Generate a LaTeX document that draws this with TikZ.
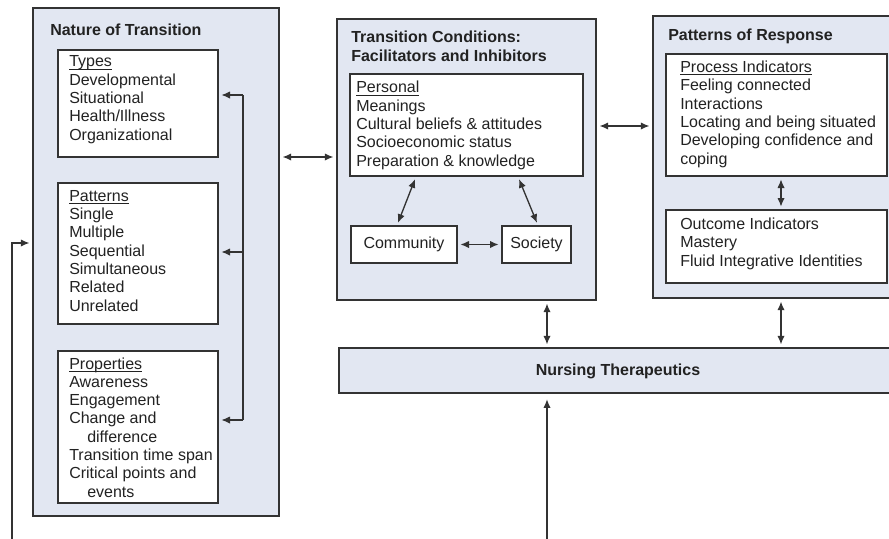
\documentclass[tikz,border=0pt]{standalone}
\usepackage{fontspec}
\setmainfont{Liberation Sans}
\usetikzlibrary{fit,arrows.meta}
\definecolor{panelfill}{HTML}{E2E7F2}
\definecolor{edge}{HTML}{333333}
\definecolor{ink}{HTML}{222222}
\newcommand\headul[1]{\underline{\smash{#1}}}
\begin{document}
\begin{tikzpicture}[x=0.75pt,y=-0.75pt,
  panel/.style={draw=edge, line width=1.3pt, fill=panelfill, inner sep=0pt},
  inbox/.style={draw=edge, line width=1pt, fill=white, inner sep=0pt},
  lbl/.style={anchor=center, inner sep=0pt, text=ink, font=\fontsize{12}{13.5}\selectfont},
  txt/.style={anchor=base west, inner sep=0pt, align=left, text=ink, font=\fontsize{12}{13.7}\selectfont},
  ttl/.style={anchor=base west, inner sep=0pt, align=left, text=ink, font=\fontsize{12}{14.25}\selectfont\bfseries},
  conn/.style={draw=edge, line width=1pt},
  tip/.tip={Latex[length=6.5pt,width=5.5pt]},
  dbl/.style={conn, tip-tip, shorten <=2pt, shorten >=2pt},
  one/.style={conn, -tip, shorten >=2pt}]
\useasboundingbox (0,0) rectangle (889,539);

% panels
\node[panel, fit={(33,8) (279,516)}] (natP) {};
\node[panel, fit={(337,19) (596,300)}] (condP) {};
\node[panel, fit={(653,16) (892,298)}] (respP) {};
\node[panel, fit={(339,348) (892,393)}] (nurse) {};
\node[lbl, font=\fontsize{12}{14}\selectfont\bfseries] (nurseT) at (618,371) {Nursing Therapeutics};

% inner boxes
\node[inbox, fit={(58,50) (218,157)}] (types) {};
\node[inbox, fit={(58,183) (218,324)}] (patterns) {};
\node[inbox, fit={(58,351) (218,503)}] (props) {};
\node[inbox, fit={(350,74) (583,176)}] (personal) {};
\node[inbox, fit={(351,226) (457,263)}] (community) {};
\node[inbox, fit={(502,226) (571,263)}] (society) {};
\node[inbox, fit={(666,54) (887,176)}] (process) {};
\node[inbox, fit={(666,210) (887,283)}] (outcome) {};
\node[lbl] (commT) at (community.center) {Community};
\node[lbl] (socT) at (society.center) {Society};

% titles (anchored at the baseline of the last line)
\node[ttl] (natT) at (50,35) {Nature of Transition};
\node[ttl] (condT) at (351,61) {Transition Conditions:\\Facilitators and Inhibitors};
\node[ttl] (respT) at (668,40) {Patterns of Response};

% texts (anchored at the baseline of the last line)
\node[txt] (typesT) at (69,140) {\headul{Types}\\Developmental\\Situational\\Health/Illness\\Organizational};
\node[txt] (patT) at (69,311) {\headul{Patterns}\\Single\\Multiple\\Sequential\\Simultaneous\\Related\\Unrelated};
\node[txt] (propT) at (69,497) {\headul{Properties}\\Awareness\\Engagement\\Change and\\\hspace*{13.5pt}difference\\Transition time span\\Critical points and\\\hspace*{13.5pt}events};
\node[txt] (persT) at (356,166) {\headul{Personal}\\Meanings\\Cultural beliefs \& attitudes\\Socioeconomic status\\Preparation \& knowledge};
\node[txt] (procT) at (680,164) {\headul{Process Indicators}\\Feeling connected\\Interactions\\Locating and being situated\\Developing confidence and\\coping};
\node[txt] (outT) at (680,266) {Outcome Indicators\\Mastery\\Fluid Integrative Identities};

% bracket arrows inside Nature of Transition
\coordinate (v1) at (243,95);
\coordinate (v2) at (243,252);
\coordinate (v3) at (243,420);
\draw[conn] (v1) -- (v3);
\draw[one] (v1) -- (v1 -| types.east);
\draw[one] (v2) -- (v2 -| patterns.east);
\draw[one] (v3) -- (v3 -| props.east);

% panel-to-panel arrows
\coordinate (h1) at (0,157);
\draw[dbl] (natP.east |- h1) -- (condP.west |- h1);
\coordinate (h2) at (0,126);
\draw[dbl] (condP.east |- h2) -- (respP.west |- h2);

% inside conditions
\coordinate (pc1) at (416,0);
\coordinate (pc2) at (397,0);
\draw[dbl] (personal.south -| pc1) -- (community.north -| pc2);
\coordinate (ps1) at (518,0);
\coordinate (ps2) at (538,0);
\draw[dbl] (personal.south -| ps1) -- (society.north -| ps2);
\draw[dbl] (community.east) -- (society.west);

% inside response
\coordinate (r1) at (781,0);
\draw[dbl] (process.south -| r1) -- (outcome.north -| r1);

% to nursing therapeutics
\coordinate (m1) at (547,0);
\draw[dbl] (condP.south -| m1) -- (nurse.north -| m1);
\draw[dbl] (respP.south -| r1) -- (nurse.north -| r1);
\coordinate (b1) at (547,539);
\draw[one, shorten >=4pt] (b1) -- (nurse.south -| b1);

% feedback line on the left
\coordinate (f0) at (12,539);
\coordinate (f1) at (12,243);
\draw[one] (f0) -- (f1) -- (natP.west |- f1);
\end{tikzpicture}
\end{document}
